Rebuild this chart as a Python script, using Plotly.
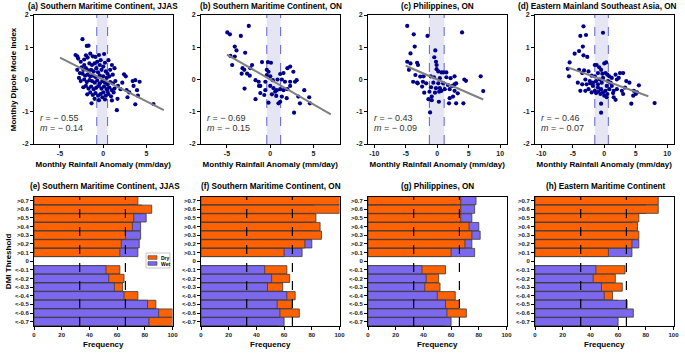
import plotly.graph_objects as go
from plotly.subplots import make_subplots
import numpy as np

# ---------------- DATA ----------------
titles_top = ["(a) Southern Maritime Continent, JJAS", "(b) Southern Maritime Continent, ON",
              "(c) Philippines, ON", "(d) Eastern Mainland Southeast Asia, ON"]
titles_bot = ["(e) Southern Maritime Continent, JJAS", "(f) Southern Maritime Continent, ON",
              "(g) Philippines, ON", "(h) Eastern Maritime Continent"]

a_x = [-2.4,-1.9,-1.7,-3.2,-3.0,-2.9,-2.6,-2.2,-2.0,-1.8,-1.5,-1.2,-0.9,-0.5,0.1,-0.3,-1.6,-1.3,-1.0,-0.7,-0.4,0.2,0.6,1.0,0.8,1.3,
       -2.5,-2.3,-2.0,-1.7,-1.4,-1.1,-0.8,-0.6,-0.2,0.3,0.5,-2.7,-2.4,-2.1,-1.8,-1.5,-1.2,-0.9,-0.4,0.0,0.4,0.7,1.1,2.4,2.6,
       -2.6,-2.2,-1.9,-1.6,-1.3,-1.0,-0.7,-0.4,-0.1,0.2,0.5,0.8,1.1,1.4,1.7,3.4,4.2,3.7,
       -2.3,-2.0,-1.7,-1.4,-1.1,-0.8,-0.5,-0.2,0.1,0.4,0.7,1.0,1.3,2.0,2.7,3.5,3.9,
       -1.85,-1.5,-1.2,-0.9,-0.6,-0.3,0.0,0.3,0.6,0.9,1.2,4.0,1.65,-0.5,-1.35,0.2,1.0,3.7,5.8,1.57,-2.2,-2.8,-3.0,0.0,-0.1,0.5,2.2,2.8,3.0,-1.0]
a_y = [1.25,1.04,1.05,0.76,0.72,0.65,0.55,0.62,0.75,0.68,0.8,0.72,0.7,0.76,0.79,0.6,0.5,0.45,0.5,0.55,0.45,0.52,0.6,0.45,0.3,0.35,
       0.38,0.3,0.35,0.28,0.3,0.25,0.35,0.22,0.3,0.25,0.18,0.2,0.18,0.12,0.15,0.1,0.12,0.08,0.12,0.1,0.05,0.1,0.15,0.16,0.1,
       -0.05,0.0,-0.08,-0.02,-0.05,-0.1,-0.03,-0.12,-0.05,-0.1,-0.15,-0.08,-0.12,-0.05,-0.2,-0.05,-0.07,-0.02,
       -0.24,-0.2,-0.28,-0.22,-0.3,-0.25,-0.2,-0.28,-0.22,-0.3,-0.25,-0.33,-0.28,-0.3,-0.33,-0.2,-0.33,
       -0.46,-0.4,-0.48,-0.42,-0.5,-0.45,-0.4,-0.5,-0.45,-0.52,-0.4,-0.5,-0.6,-0.64,-0.74,-0.62,-0.65,-0.77,-0.76,-0.95,0.45,0.05,0.3,0.4,-0.55,-0.38,-0.1,-0.55,-0.4,-0.6]

b_x = [-4.96,-4.66,-2.48,-3.4,-4.1,-3.9,-4.6,-4.1,-2.9,-4.4,-3.2,-3.0,-2.1,-2.3,-0.95,-0.27,0.08,-3.3,-2.67,-2.37,-0.4,-0.2,-0.4,0.0,
       1.15,1.53,1.98,2.3,2.67,-1.7,-1.34,-0.57,0.3,0.84,1.34,1.7,2.3,2.86,3.05,-2.97,-1.15,-0.57,0.38,0.76,1.15,1.53,1.98,3.93,0.0,
       0.57,0.19,0.69,1.34,1.9,3.24,4.5,-1.7,1.15,-0.2,0.95,3.43,4.58,2.75,-0.69,-1.3,-1.15,2.3]
b_y = [1.46,1.4,1.66,1.35,1.02,0.9,0.73,0.71,0.83,0.45,0.35,0.3,0.45,0.35,0.54,0.54,0.52,0.18,0.18,0.12,0.3,0.24,0.14,0.1,
       0.17,0.2,0.35,0.4,0.24,-0.02,-0.07,-0.07,-0.02,0.0,0.0,-0.07,-0.07,-0.07,-0.02,-0.28,-0.2,-0.33,-0.27,-0.33,-0.3,-0.33,-0.3,-0.33,-0.2,
       -0.38,-0.46,-0.51,-0.53,-0.58,-0.53,-0.55,-0.61,-0.69,-0.72,-0.74,-0.74,-0.74,-1.03,-0.48,-0.2,-0.42,-0.2]

c_x = [-4.77,-3.73,-1.55,3.94,-3.58,-0.31,-4.25,-0.47,-4.77,-4.25,-3.2,-3.06,-0.2,-0.1,-4.5,-0.1,0.16,0.67,1.0,1.45,-3.47,-2.7,-2.18,
       -1.04,-0.52,0.41,1.45,2.12,2.75,4.3,4.56,6.9,-3.83,-3.2,-2.28,-1.76,-0.62,0.16,0.93,1.7,2.38,3.0,-2.4,-0.98,-0.2,0.41,0.67,1.19,
       1.97,2.75,3.26,-1.24,-0.36,0.3,-2.07,-0.88,2.5,-0.88,-1.4,0.26,1.87,3.0,4.15,1.97,-1.14,7.3,2.75,-3.1]
c_y = [1.66,1.4,1.35,1.46,1.02,0.9,0.81,0.69,0.55,0.5,0.52,0.45,0.55,0.45,0.3,0.32,0.25,0.22,0.22,0.22,0.14,0.09,0.1,
       0.1,0.07,0.04,0.07,0.04,0.1,0.0,-0.04,0.1,-0.07,-0.1,-0.07,-0.12,-0.1,-0.12,-0.12,-0.17,-0.2,-0.12,-0.22,-0.24,-0.27,-0.27,-0.35,-0.3,
       -0.3,-0.35,-0.43,-0.38,-0.41,-0.38,-0.41,-0.53,-0.53,-0.64,-0.61,-0.69,-0.74,-0.74,-0.74,-0.58,-1.02,-0.36,-0.15,-0.12]

d_x = [-5.8,-5.5,-5.6,-4.7,-4.0,-3.4,-3.8,-2.9,-3.3,-0.2,-3.3,-2.7,-4.0,-3.5,-3.2,-2.5,-1.5,-1.2,0.0,0.3,-0.8,-0.5,-1.0,-0.3,
       -4.2,-3.5,-2.8,-2.3,-1.8,-1.3,-0.7,-0.4,0.2,0.5,0.8,1.2,1.8,2.5,3.0,2.3,3.5,4.0,5.5,-3.8,-3.0,-2.5,-2.0,-1.5,-1.0,-0.5,
       -0.2,0.2,0.5,0.8,1.2,1.5,2.0,2.8,3.3,-0.6,0.0,0.4,1.5,1.8,3.0,4.6,4.7,4.3,5.2,-0.5,-0.5,8.0,-1.0,-1.8,-2.2,0.6,1.0,-0.2,
       2.0,-3.0,-2.0,-1.5,0.4,1.4,-0.9,-1.3,5.0]
d_y = [0.33,0.53,0.1,0.8,0.88,1.02,1.35,1.38,1.65,1.45,0.75,0.7,0.3,0.2,0.28,0.25,0.45,0.45,0.5,0.53,0.38,0.3,0.2,0.18,
       -0.1,-0.15,-0.15,-0.05,-0.1,-0.05,0.0,-0.1,0.2,0.15,0.1,0.05,0.15,0.2,0.2,0.05,-0.05,-0.1,-0.18,-0.35,-0.35,-0.3,-0.4,-0.35,-0.25,-0.3,
       -0.4,-0.35,-0.45,-0.3,-0.2,-0.35,-0.3,-0.35,-0.25,-0.45,-0.5,-0.55,-0.55,-0.63,-0.45,-0.5,-0.35,-0.75,-0.4,-0.75,-1.03,-0.73,-0.15,-0.2,-0.12,-0.05,-0.1,0.05,
       0.0,0.0,0.12,0.1,-0.2,-0.42,-0.38,-0.42,-0.45]

scatter_x = [a_x, b_x, c_x, d_x]
scatter_y = [a_y, b_y, c_y, d_y]
r_vals = ["\u2212 0.55", "\u2212 0.69", "\u2212 0.43", "\u2212 0.46"]
m_vals = ["\u2212 0.14", "\u2212 0.15", "\u2212 0.09", "\u2212 0.07"]
slopes = [-0.136, -0.155, -0.085, -0.07]
intercepts = [0.0, 0.0, 0.0, -0.03]
line_ranges = [(-5, 7), (-5, 7), (-5, 7.3), (-5.8, 7)]
bands = [(-0.75, 0.5), (-0.4, 1.2), (-1.25, 1.1), (-1.5, 0.65)]
x_ranges = [(-8, 8), (-8, 8), (-11, 11), (-11, 11)]
x_ticks = [[-5, 0, 5], [-5, 0, 5], [-10, -5, 0, 5, 10], [-10, -5, 0, 5, 10]]
y_ticks = [-2, -1, 0, 1, 2]

thresholds = [">0.7", ">0.6", ">0.5", ">0.4", ">0.3", ">0.2", ">0.1", "0",
              "<-0.1", "<-0.2", "<-0.3", "<-0.4", "<-0.5", "<-0.6", "<-0.7"]
dry_e = [75, 85, 72, 71, 66, 63, 62, None, 62, 65, 64, 75, 88, 100, 100]
wet_e = [73, 78, 81, 77, 77, 76, 75, None, 52, 54, 58, 65, 82, 90, 83]
dry_f = [100, 100, 83, 86, 87, 75, 60, None, 62, 64, 59, 68, 66, 71, 55]
wet_f = [80, 82, 78, 80, 80, 80, 73, None, 46, 51, 48, 62, 55, 57, 60]
dry_g = [67, 67, 67, 73, 75, 70, 60, None, 56, 51, 52, 63, 66, 71, 55]
wet_g = [78, 77, 75, 80, 81, 75, 77, None, 39, 42, 41, 50, 56, 57, 60]
dry_h = [89, 89, 75, 74, 75, 70, 53, None, 65, 58, 63, 56, 60, 65, 55]
wet_h = [80, 80, 70, 70, 72, 75, 70, None, 44, 42, 48, 50, 66.5, 71, 60]
dry_all = [dry_e, dry_f, dry_g, dry_h]
wet_all = [wet_e, wet_f, wet_g, wet_h]
freq_ticks = [0, 20, 40, 60, 80, 100]
tercile_lines = [33, 66]
legend_labels = ["Dry", "Wet"]

# ---------------- STYLE / LAYOUT ----------------
W, H = 685, 353
FONT = "Liberation Sans, Arial, sans-serif"
DRY = "#FF6103"
WET = "#7B68EE"
EDGE = "#3a3a3a"
NAVY = "#00008B"
lefts = [34, 201, 368, 535]          # screen pixels
pw = 138.5
top_y = (15, 144)
bot_y = (196.7, 326)
top_title_cx = [102.5, 271, 437, 597]
bot_title_cx = [105, 271, 437, 605]

def px(x):
    return x / W

def py(y):
    return 1 - y / H

fig = make_subplots(rows=2, cols=4)

def xd(i):
    return [px(lefts[i]), px(lefts[i] + pw)]

axis_common = dict(showline=True, linecolor="black", linewidth=1, mirror=True,
                   ticks="outside", ticklen=3, tickwidth=1, tickcolor="black",
                   showgrid=False, zeroline=False, automargin=False,
                   tickfont=dict(family=FONT, size=7, color="#222222", weight="bold"))
title_font = dict(family=FONT, size=8, color="black", weight="bold")

annotations = []
shapes = []

for i in range(4):
    col = i + 1
    fig.add_trace(go.Scatter(x=scatter_x[i], y=scatter_y[i], mode="markers",
                             marker=dict(color=NAVY, size=4.2), showlegend=False,
                             hoverinfo="skip"), row=1, col=col)
    lx = np.array(line_ranges[i])
    fig.add_trace(go.Scatter(x=lx, y=slopes[i] * lx + intercepts[i], mode="lines",
                             line=dict(color="#808080", width=2), showlegend=False, hoverinfo="skip"),
                  row=1, col=col)
    xn = "x" if i == 0 else f"x{i+1}"
    yn = "y" if i == 0 else f"y{i+1}"
    shapes.append(dict(type="rect", xref=xn, yref=f"{yn} domain", x0=bands[i][0], x1=bands[i][1],
                       y0=0, y1=1, fillcolor="rgba(170,170,220,0.3)", line=dict(width=0), layer="below"))
    for bx in bands[i]:
        shapes.append(dict(type="line", xref=xn, yref=f"{yn} domain", x0=bx, x1=bx, y0=0, y1=1,
                           line=dict(color="#3c3cc8", width=0.8, dash="dash"), layer="below"))
    annotations.append(dict(xref=f"{xn} domain", yref=yn, x=0.03, y=-1.2, xanchor="left", yanchor="middle",
                            text=f"<i>r</i> = {r_vals[i]}", showarrow=False,
                            font=dict(family=FONT, size=9, color="#333333")))
    annotations.append(dict(xref=f"{xn} domain", yref=yn, x=0.03, y=-1.5, xanchor="left", yanchor="middle",
                            text=f"<i>m</i> = {m_vals[i]}", showarrow=False,
                            font=dict(family=FONT, size=9, color="#333333")))
    fig.update_xaxes(axis_common, range=list(x_ranges[i]), tickvals=x_ticks[i],
                     ticktext=[str(v) for v in x_ticks[i]], domain=xd(i),
                     title=dict(text="Monthly Rainfall Anomaly (mm/day)", standoff=4, font=title_font),
                     row=1, col=col)
    fig.update_yaxes(axis_common, range=[-2, 2], tickvals=y_ticks, ticktext=[str(v) for v in y_ticks],
                     domain=[py(top_y[1]), py(top_y[0])], row=1, col=col)
    annotations.append(dict(xref="paper", yref="paper", x=px(top_title_cx[i]), y=py(6.5),
                            text=titles_top[i], showarrow=False, xanchor="center", yanchor="middle",
                            font=dict(family=FONT, size=8.2, color="black", weight="bold")))

    dry = dry_all[i]
    wet = wet_all[i]
    pos = [k for k, t in enumerate(thresholds) if t.startswith(">")]
    neg = [k for k, t in enumerate(thresholds) if t.startswith("<")]
    def sel(vals, idx):
        return [vals[k] if k in idx else None for k in range(len(vals))]
    bar_common = dict(orientation="h", y=thresholds, width=0.95, hoverinfo="skip", showlegend=False)
    fig.add_trace(go.Bar(x=sel(wet, pos), marker=dict(color=WET, line=dict(color=EDGE, width=0.8)),
                         name="Wet", **bar_common), row=2, col=col)
    fig.add_trace(go.Bar(x=sel(dry, pos), marker=dict(color=DRY, line=dict(color=EDGE, width=0.8)),
                         name="Dry", **bar_common), row=2, col=col)
    fig.add_trace(go.Bar(x=sel(dry, neg), marker=dict(color=DRY, line=dict(color=EDGE, width=0.8)),
                         name="Dry", **bar_common), row=2, col=col)
    fig.add_trace(go.Bar(x=sel(wet, neg), marker=dict(color=WET, line=dict(color=EDGE, width=0.8)),
                         name="Wet", **bar_common), row=2, col=col)
    xb = f"x{i+5}"
    yb = f"y{i+5}"
    for tl in tercile_lines:
        shapes.append(dict(type="line", xref=xb, yref=f"{yb} domain", x0=tl, x1=tl, y0=0, y1=1,
                           line=dict(color="black", width=1.2, dash="dash"), layer="above"))
    fig.update_xaxes(axis_common, range=[0, 100], tickvals=freq_ticks, domain=xd(i),
                     tickfont=dict(family=FONT, size=6, color="#222222", weight="bold"),
                     title=dict(text="Frequency", standoff=4, font=title_font), row=2, col=col)
    fig.update_yaxes(axis_common, type="category", categoryorder="array", categoryarray=thresholds,
                     range=[14.5, -0.45], domain=[py(bot_y[1]), py(bot_y[0])],
                     tickfont=dict(family=FONT, size=6, color="#222222", weight="bold"), row=2, col=col)
    annotations.append(dict(xref="paper", yref="paper", x=px(bot_title_cx[i]), y=py(186),
                            text=titles_bot[i], showarrow=False, xanchor="center", yanchor="middle",
                            font=dict(family=FONT, size=8.2, color="black", weight="bold")))

fig.update_yaxes(title=dict(text="Monthly Dipole Mode Index", standoff=4, font=title_font), row=1, col=1)
fig.update_yaxes(title=dict(text="DMI Threshold", standoff=2, font=title_font), row=2, col=1)

# compact legend box in panel (e)
lx0, ly0, lw, lh = 146, 253, 24, 15
shapes.append(dict(type="rect", xref="paper", yref="paper", x0=px(lx0), x1=px(lx0 + lw),
                   y0=py(ly0 + lh), y1=py(ly0), fillcolor="white", line=dict(color="#bbbbbb", width=0.8),
                   layer="above"))
for j, (lab, colr) in enumerate(zip(legend_labels, [DRY, WET])):
    yc = ly0 + 4.5 + j * 6
    shapes.append(dict(type="rect", xref="paper", yref="paper", x0=px(lx0 + 2), x1=px(lx0 + 11),
                       y0=py(yc + 1.8), y1=py(yc - 1.8), fillcolor=colr, line=dict(color=EDGE, width=0.6),
                       layer="above"))
    annotations.append(dict(xref="paper", yref="paper", x=px(lx0 + 13), y=py(yc), text=lab,
                            showarrow=False, xanchor="left", yanchor="middle",
                            font=dict(family=FONT, size=5, color="black", weight="bold")))

fig.update_layout(
    width=W, height=H, autosize=False,
    margin=dict(l=0, r=0, t=0, b=0),
    paper_bgcolor="white", plot_bgcolor="white",
    barmode="overlay",
    showlegend=False,
    annotations=annotations,
    shapes=shapes,
    font=dict(family=FONT),
)

fig.write_html("out.html", config={"displayModeBar": False},
               post_script="document.body.style.margin='0px';document.body.style.overflow='hidden';")
